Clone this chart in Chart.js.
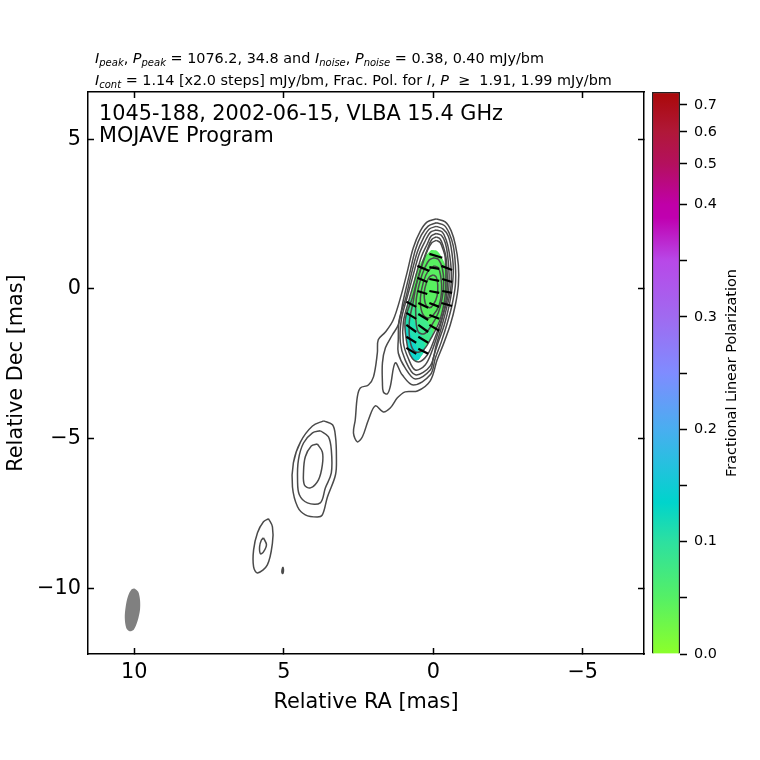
<!DOCTYPE html>
<html>
<head>
<meta charset="utf-8">
<title>1045-188 MOJAVE</title>
<script src="https://cdn.jsdelivr.net/npm/chart.js@4"></script>
<style>
  html, body { margin: 0; background: #fff; }
  body { width: 760px; height: 760px; position: relative; overflow: hidden; font-family: "DejaVu Sans", sans-serif; color: #000; }
  canvas { position: absolute; left: 0; top: 0; }
  .head { position: absolute; left: 95px; font-size: 14.4px; line-height: 16px; white-space: nowrap; }
  .head i { font-style: oblique; }
  .head sub { font-size: 10px; line-height: 0; font-style: oblique; vertical-align: -2.5px; }
  .note { position: absolute; left: 99px; font-size: 20.8px; line-height: 24px; white-space: nowrap; }
</style>
</head>
<body>
<canvas id="map" width="760" height="760"></canvas>
<canvas id="cbar" width="760" height="760"></canvas>
<div class="head" style="top:50px"><i>I<sub>peak</sub></i>, <i>P<sub>peak</sub></i> = 1076.2, 34.8 and <i>I<sub>noise</sub></i>, <i>P<sub>noise</sub></i> = 0.38, 0.40 mJy/bm</div>
<div class="head" style="top:72px"><i>I<sub>cont</sub></i> = 1.14 [x2.0 steps] mJy/bm, Frac. Pol. for <i>I</i>, <i>P</i> &nbsp;&ge;&nbsp; 1.91, 1.99 mJy/bm</div>
<div class="note" style="top:101px">1045-188, 2002-06-15, VLBA 15.4 GHz</div>
<div class="note" style="top:123px">MOJAVE Program</div>
<script>
const xTicks = [10, 5, 0, -5];
const yTicks = [5, 0, -5, -10];

// contour rings, [RA, Dec] in mas, lowest level first
const level1 = [[-.10,2.34],[-.40,2.24],[-.60,1.94],[-.74,1.47],[-.84,.80],[-.84,.13],[-.74,-.53],[-.57,-1.20],[-.33,-1.87],[-.13,-2.37],[.10,-3.07],[.53,-3.41],[.94,-3.44],[1.20,-3.64],[1.44,-3.98],[1.67,-4.11],[1.94,-3.91],[2.17,-4.38],[2.37,-4.94],[2.54,-5.11],[2.67,-4.81],[2.61,-4.38],[2.54,-3.61],[2.44,-3.31],[2.17,-3.21],[2.00,-2.94],[1.87,-2.14],[1.84,-1.70],[1.60,-1.44],[1.34,-1.04],[1.07,-.20],[.87,.57],[.67,1.37],[.43,1.94],[.20,2.24]];
const level2 = [[-.10,2.21],[-.37,2.12],[-.53,1.87],[-.67,1.44],[-.74,.80],[-.74,.13],[-.63,-.53],[-.47,-1.14],[-.27,-1.77],[-.07,-2.31],[.10,-2.87],[.67,-3.21],[1.04,-2.87],[1.27,-2.47],[1.44,-3.27],[1.54,-3.51],[1.67,-3.44],[1.70,-3.14],[1.70,-2.47],[1.60,-1.97],[1.37,-1.54],[1.17,-1.20],[1.00,-.37],[.80,.47],[.60,1.30],[.40,1.80],[.17,2.10]];
const level3 = [[-.10,2.09],[-.33,2.00],[-.50,1.77],[-.60,1.37],[-.67,.70],[-.63,.03],[-.53,-.57],[-.37,-1.20],[-.17,-1.77],[0,-2.31],[.10,-2.71],[.60,-3.01],[.94,-2.64],[1.17,-2.14],[1.17,-1.70],[1.14,-1.04],[.92,-.30],[.74,.47],[.53,1.24],[.33,1.70],[.13,2.00]];
const level4 = [[-.10,1.97],[-.30,1.90],[-.43,1.64],[-.53,1.24],[-.60,.63],[-.58,-.03],[-.43,-.70],[-.27,-1.30],[-.10,-1.87],[.10,-2.57],[.60,-2.87],[.94,-2.37],[1.10,-1.80],[1.07,-1.04],[.85,-.20],[.67,.47],[.47,1.17],[.27,1.60],[.10,1.89]];
const level5 = [[-.10,1.85],[-.27,1.79],[-.40,1.54],[-.48,1.14],[-.53,.47],[-.50,-.20],[-.33,-.87],[-.17,-1.44],[.03,-2.04],[.27,-2.54],[.60,-2.71],[.84,-2.31],[1.00,-1.80],[1.00,-1.10],[.79,-.30],[.60,.37],[.40,1.07],[.20,1.50],[.07,1.77]];
const level6 = [[-.10,1.74],[-.23,1.67],[-.33,1.44],[-.43,1.04],[-.47,.30],[-.43,-.37],[-.27,-1.04],[-.03,-1.70],[.20,-2.21],[.50,-2.44],[.77,-2.21],[.90,-1.70],[.94,-1.04],[.70,-.30],[.53,.30],[.33,.97],[.18,1.37],[.05,1.65]];
const level7 = [[-.10,1.62],[-.23,1.55],[-.32,1.34],[-.40,1.04],[-.42,.13],[-.37,-.43],[-.20,-1.10],[.07,-1.64],[.33,-2.04],[.60,-2.10],[.77,-1.77],[.80,-1.10],[.67,-.43],[.57,.13],[.37,.80],[.20,1.27],[.05,1.54]];
const level8 = [[-.03,1.04],[-.17,.99],[-.30,.70],[-.35,.23],[-.30,-.30],[-.17,-.80],[.07,-1.24],[.30,-1.50],[.50,-1.44],[.58,-1.04],[.57,-.37],[.43,.30],[.27,.73],[.13,.97]];
const level9 = [[-.03,.77],[-.17,.70],[-.25,.43],[-.28,-.03],[-.20,-.53],[0,-.87],[.20,-.97],[.38,-.77],[.43,-.30],[.33,.23],[.17,.60]];
const level10 = [[0,.47],[-.10,.40],[-.15,.13],[-.13,-.23],[0,-.53],[.13,-.63],[.27,-.47],[.30,-.10],[.23,.20],[.13,.40]];
const knotOuter = [[3.67,-4.41],[3.37,-4.54],[3.27,-4.94],[3.24,-5.61],[3.27,-6.21],[3.54,-6.95],[3.71,-7.55],[3.88,-7.62],[4.28,-7.55],[4.54,-7.28],[4.71,-6.62],[4.68,-5.81],[4.44,-5.11],[4.04,-4.58]];
const knotMiddle = [[3.78,-4.74],[3.51,-4.94],[3.41,-5.38],[3.41,-6.15],[3.61,-6.65],[3.78,-7.15],[4.21,-7.15],[4.48,-6.88],[4.54,-6.38],[4.51,-5.71],[4.34,-5.15],[4.04,-4.81]];
const knotInner = [[3.88,-5.18],[3.71,-5.45],[3.71,-5.88],[3.84,-6.38],[4.11,-6.65],[4.31,-6.55],[4.34,-6.11],[4.28,-5.61],[4.08,-5.25]];
const farKnotOuter = [[5.51,-7.68],[5.38,-7.95],[5.38,-8.49],[5.55,-9.22],[5.88,-9.49],[6.01,-9.29],[6.01,-8.72],[5.88,-8.15],[5.68,-7.78]];
const farKnotInner = [[5.68,-8.32],[5.58,-8.55],[5.68,-8.79],[5.78,-8.85],[5.81,-8.62],[5.75,-8.39]];
const speck = [[5.03,-9.29],[5.01,-9.39],[5.03,-9.51],[5.06,-9.49],[5.06,-9.39]];
const contours = [level1, level2, level3, level4, level5, level6, level7, level8, level9, level10, knotOuter, knotMiddle, knotInner, farKnotOuter, farKnotInner, speck];

const beam = [[9.99,-10.01],[9.87,-10.12],[9.81,-10.39],[9.81,-10.72],[9.89,-11.09],[10.02,-11.39],[10.16,-11.44],[10.27,-11.33],[10.32,-10.99],[10.29,-10.62],[10.21,-10.26],[10.09,-10.04]];

// fractional polarization patches, from the low core value to the teal tail
const polCore = [[.07,1.30],[-.13,1.27],[-.33,.97],[-.47,.57],[-.50,.07],[-.40,-.47],[-.23,-.97],[0,-1.47],[.27,-1.97],[.50,-2.37],[.67,-2.37],[.84,-1.97],[.94,-1.37],[.90,-.77],[.74,-.20],[.60,.47],[.37,.97]];
const polMid = [[.77,-.30],[.43,-.77],[0,-1.47],[.27,-1.97],[.50,-2.37],[.67,-2.37],[.84,-1.97],[.94,-1.37],[.90,-.77]];
const polLow = [[.87,-.70],[.57,-1.20],[.27,-1.97],[.50,-2.37],[.67,-2.37],[.84,-1.97],[.94,-1.37]];
const polTail = [[.94,-1.20],[.70,-1.64],[.43,-2.27],[.50,-2.37],[.67,-2.37],[.84,-1.97]];

// EVPA sticks: RA1, Dec1, RA2, Dec2
const sticks = [
  [.13,1.17,-.30,1.04],[.53,.77,.13,.60],[.13,.73,-.20,.67],[-.27,.77,-.63,.63],
  [.53,.37,.20,.23],[.13,.33,-.20,.27],[-.30,.33,-.63,.23],[.53,-.07,.20,-.17],
  [.13,-.07,-.20,-.13],[-.30,-.07,-.63,-.13],[.90,-.43,.57,-.60],[.50,-.47,.17,-.63],
  [.13,-.47,-.20,-.60],[-.27,-.47,-.63,-.57],[.90,-.80,.57,-1.00],[.50,-.84,.17,-1.04],
  [.13,-.87,-.20,-1.00],[.90,-1.20,.57,-1.44],[.50,-1.20,.17,-1.44],[.13,-1.20,-.20,-1.40],
  [.90,-1.60,.57,-1.80],[.50,-1.60,.17,-1.80],[.90,-1.97,.57,-2.17],[.50,-2.00,.17,-2.17]
];

// colour bar: tick labels and where each one sits on the bar (0 bottom, 1 top)
const cbarLabels = ["0.0", "", "0.1", "", "0.2", "", "0.3", "", "0.4", "0.5", "0.6", "0.7"];
const cbarTicks = [0, 0.1005, 0.2, 0.3, 0.4, 0.5, 0.6, 0.7, 0.8, 0.872, 0.929, 0.977];
const cbarStops = [0, 0.1, 0.2, 0.27, 0.4, 0.5, 0.6, 0.7, 0.776, 0.8, 0.872, 0.93, 1];
const cbarColors = ["#8cff2a", "#55f065", "#2de0a0", "#00d4cc", "#49aef0", "#7f8cff", "#a06af0", "#b848e8", "#c000b0", "#c000a8", "#b4105e", "#b01838", "#aa0808"];

const FONT = "'DejaVu Sans', sans-serif";
const toPoints = (ring) => [...ring, ring[0]].map(([x, y]) => ({ x, y }));

function patch(ring, color, order) {
  return { data: toPoints(ring), showLine: true, pointRadius: 0, borderWidth: 0, borderColor: color, backgroundColor: color, fill: "shape", tension: 0.3, order };
}

const stickPoints = [];
sticks.forEach(([x1, y1, x2, y2]) => {
  stickPoints.push({ x: x1, y: y1 }, { x: x2, y: y2 }, { x: null, y: null });
});

const datasets = [
  patch(beam, "#808080", 9),
  patch(polCore, "#58f060", 8),
  patch(polMid, "#3feb8c", 7),
  patch(polLow, "#22e2b0", 6),
  patch(polTail, "#10d8cc", 5),
  ...contours.map((ring) => ({
    data: toPoints(ring), showLine: true, pointRadius: 0, borderColor: "#4a4a4a", borderWidth: 1.5, fill: false, tension: 0.35, order: 2,
  })),
  { data: stickPoints, showLine: true, pointRadius: 0, borderColor: "#000", borderWidth: 2.2, fill: false, spanGaps: false, order: 1 },
];

function setTicks(values) {
  return (scale) => { scale.ticks = values.map((value) => ({ value })); };
}
const fixedSize = (prop, size) => (scale) => { scale[prop] = size; };
const minus = (v) => String(v).replace("-", "\u2212");
const frame = { color: "#000", width: 1.5, tickColor: "#000", tickWidth: 1.5, tickLength: -6, drawOnChartArea: false };
const border = { color: "#000", width: 1.5 };
const axisTitle = (text) => ({ display: true, text, color: "#000", font: { family: FONT, size: 20.8 } });

new Chart(document.getElementById("map"), {
  type: "scatter",
  data: { datasets },
  options: {
    responsive: false,
    animation: false,
    layout: { padding: { bottom: 41 } },
    plugins: { legend: { display: false }, tooltip: { enabled: false } },
    scales: {
      x: {
        type: "linear", position: "bottom", min: -7.05, max: 11.55, reverse: true,
        grid: frame, border, title: axisTitle("Relative RA [mas]"),
        ticks: { color: "#000", font: { family: FONT, size: 20.8 }, padding: 12, maxRotation: 0, autoSkip: false, callback: minus },
        afterBuildTicks: setTicks(xTicks), afterFit: fixedSize("height", 65),
      },
      x2: {
        type: "linear", position: "top", min: -7.05, max: 11.55, reverse: true,
        grid: frame, border, ticks: { display: false },
        afterBuildTicks: setTicks(xTicks), afterFit: fixedSize("height", 92),
      },
      y: {
        type: "linear", position: "left", min: -12.2, max: 6.58,
        grid: frame, border, title: axisTitle("Relative Dec [mas]"),
        ticks: { color: "#000", font: { family: FONT, size: 20.8 }, padding: 13, autoSkip: false, callback: minus },
        afterBuildTicks: setTicks(yTicks), afterFit: fixedSize("width", 88),
      },
      y2: {
        type: "linear", position: "right", min: -12.2, max: 6.58,
        grid: frame, border, ticks: { display: false },
        afterBuildTicks: setTicks(yTicks), afterFit: fixedSize("width", 116),
      },
    },
  },
});

function cbarGradient(context) {
  const { ctx, chartArea } = context.chart;
  if (!chartArea) return cbarColors[0];
  const gradient = ctx.createLinearGradient(0, chartArea.bottom, 0, chartArea.top);
  cbarStops.forEach((stop, i) => gradient.addColorStop(stop, cbarColors[i]));
  return gradient;
}

const cbarTitle = {
  id: "cbarTitle",
  afterDraw(chart) {
    const { ctx } = chart;
    ctx.save();
    ctx.translate(732, 373);
    ctx.rotate(-Math.PI / 2);
    ctx.font = `14.4px ${FONT}`;
    ctx.fillStyle = "#000";
    ctx.textAlign = "center";
    ctx.textBaseline = "middle";
    ctx.fillText("Fractional Linear Polarization", 0, 0);
    ctx.restore();
  },
};

new Chart(document.getElementById("cbar"), {
  type: "bar",
  data: {
    labels: ["polarization"],
    datasets: [{ data: [1], backgroundColor: cbarGradient, borderColor: "#222", borderWidth: 1.5, barPercentage: 1, categoryPercentage: 1 }],
  },
  plugins: [cbarTitle],
  options: {
    responsive: false,
    animation: false,
    layout: { padding: { left: 652, top: 92, bottom: 106 } },
    plugins: { legend: { display: false }, tooltip: { enabled: false } },
    scales: {
      x: { display: false },
      y: {
        position: "right", min: 0, max: 1,
        grid: { color: "#000", tickColor: "#000", tickWidth: 1.5, tickLength: 7, drawOnChartArea: false },
        border: { display: false },
        ticks: {
          color: "#000", font: { family: FONT, size: 14.4 }, padding: 7, autoSkip: false,
          callback: (value, i) => cbarLabels[i],
        },
        afterBuildTicks: setTicks(cbarTicks), afterFit: fixedSize("width", 80),
      },
    },
  },
});
</script>
</body>
</html>
